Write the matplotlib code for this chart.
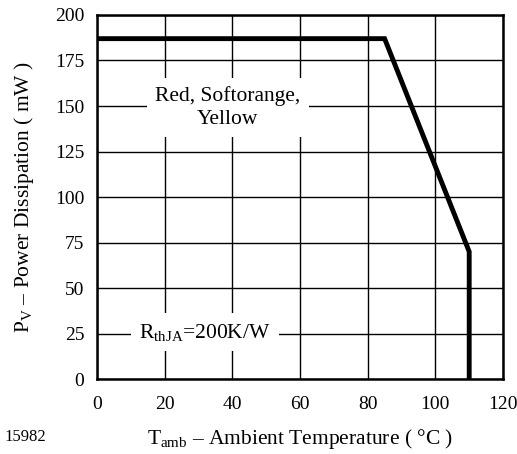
import matplotlib as mpl
import matplotlib.pyplot as plt

plt.rcParams["font.family"] = "Liberation Serif"
plt.rcParams["mathtext.fontset"] = "custom"
plt.rcParams["mathtext.rm"] = "Liberation Serif"
plt.rcParams["mathtext.it"] = "Liberation Serif"
plt.rcParams["font.size"] = 14

# derating curve
temp = [0, 85, 110, 110]
power = [187, 187, 70, 0]

x_ticks = [0, 20, 40, 60, 80, 100, 120]
y_ticks = [0, 25, 50, 75, 100, 125, 150, 175, 200]

fig = plt.figure(figsize=(5.17, 4.54), dpi=100)
ax = fig.add_axes([0.1876, 0.165, 0.7854, 0.802])

ax.set_xlim(0, 120)
ax.set_ylim(0, 200)
ax.set_xticks(x_ticks)
ax.set_yticks(y_ticks)
ax.tick_params(axis="x", length=0, pad=12)
ax.tick_params(axis="y", length=0, pad=9)
ax.grid(True, color="black", linewidth=1.0)
for s in ax.spines.values():
    s.set_linewidth(1.8)

ax.plot(temp, power, color="black", linewidth=3.5, solid_joinstyle="miter", zorder=3)

box = dict(facecolor="white", edgecolor="none", pad=6)
ax.text(38.6, 149.2, "Red, Softorange,\nYellow", ha="center", va="center",
        fontsize=15.5, linespacing=1.3, bbox=box, zorder=4)
ax.text(31.9, 25.8, r"R$_{\mathregular{thJA}}$=200K/W", ha="center", va="center",
        fontsize=15.5, bbox=box, zorder=4)

ax.set_xlabel(r"T$_{\mathregular{amb}}$ – Ambient Temperature ( °C )",
              fontsize=15.5, labelpad=10)
ax.set_ylabel(r"P$_{\mathregular{V}}$ – Power Dissipation ( mW )",
              fontsize=15.5, labelpad=14)
fig.text(0.008, 0.028, "15982", fontsize=12)

plt.savefig("out.png", dpi=100)
plt.close("all")
